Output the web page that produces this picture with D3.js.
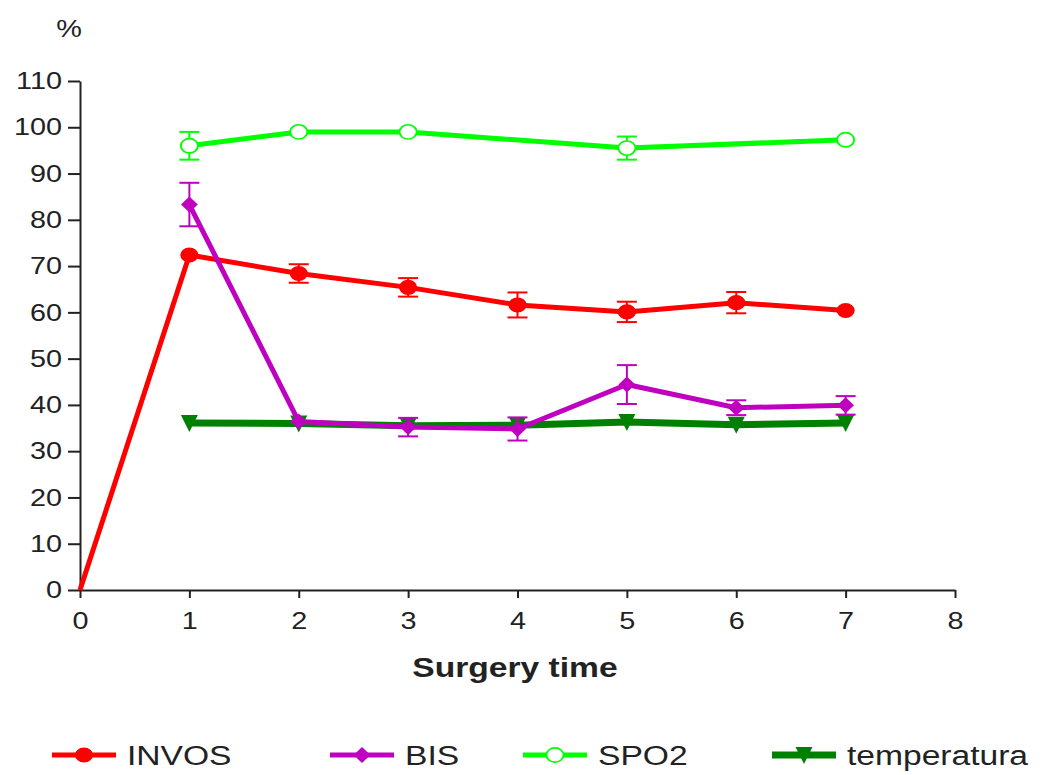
<!DOCTYPE html>
<html lang="en">
<head>
<meta charset="utf-8">
<title>Surgery time</title>
<script src="https://cdn.jsdelivr.net/npm/d3@7"></script>
<style>
    body { margin: 0; background: #fff; }
    svg { display: block; font-family: "Liberation Sans", Arial, sans-serif; }
    .axis path, .axis line { stroke: #222; stroke-width: 2px; }
    .axis text { font-size: 24px; fill: #222; }
</style>
</head>
<body>
<script>
    // chart data
    const timePoints = [0, 1, 2, 3, 4, 5, 6, 7];
    const invos     = [0, 72.4, 68.4, 65.4, 61.6, 60.1, 62.1, 60.4];
    const invosErr  = [0, 0, 2, 2, 2.7, 2.2, 2.3, 0];
    const bisTime   = [1, 2, 3, 4, 5, 6, 7];
    const bis       = [83.3, 36.4, 35.2, 34.8, 44.4, 39.4, 39.9];
    const bisErr    = [4.7, 0, 2, 2.5, 4.2, 1.6, 2];
    const spoTime   = [1, 2, 3, 5, 7];
    const spo2      = [96, 99, 99, 95.5, 97.3];
    const spo2Err   = [3, 0, 0, 2.5, 0];
    const tempTime  = [1, 2, 3, 4, 5, 6, 7];
    const temp      = [36.1, 36, 35.5, 35.6, 36.3, 35.7, 36.1];
    const tempErr   = [0, 0, 0, 0, 0, 0, 0];
    const xTicks = [0, 1, 2, 3, 4, 5, 6, 7, 8];
    const yTicks = [0, 10, 20, 30, 40, 50, 60, 70, 80, 90, 100, 110];

    const width = 1042, height = 775;
    const sx = 1.2; // picture is stretched horizontally

    let svg = d3.select("body").append("svg")
        .attr("width", width)
        .attr("height", height);

    let x = d3.scaleLinear().domain([0, 8]).range([80, 955]);
    let y = d3.scaleLinear().domain([0, 110]).range([590, 81]);

    // axes
    let yAxis = svg.append("g")
        .attr("class", "axis")
        .attr("transform", "translate(80,0)")
        .call(d3.axisLeft(y).tickValues(yTicks).tickSize(12).tickSizeOuter(0));
    yAxis.selectAll("text")
        .attr("x", -18 / sx)
        .attr("transform", "scale(" + sx + ",1)");

    let xAxis = svg.append("g")
        .attr("class", "axis")
        .attr("transform", "translate(0,590)")
        .call(d3.axisBottom(x).tickValues(xTicks).tickSize(8).tickSizeOuter(0));
    xAxis.selectAll("text")
        .attr("y", 22)
        .attr("transform", "scale(" + sx + ",1)");

    svg.append("text")
        .attr("transform", "translate(69,37) scale(" + sx + ",1)")
        .attr("text-anchor", "middle")
        .style("font-size", "24px")
        .attr("fill", "#222")
        .text("%");

    svg.append("text")
        .attr("transform", "translate(515,677) scale(" + sx + ",1)")
        .attr("text-anchor", "middle")
        .style("font-size", "28px")
        .style("font-weight", "bold")
        .attr("fill", "#222")
        .text("Surgery time");

    // marker shapes
    let markerPath = {
        circle: d3.symbol().type(d3.symbolCircle).size(180)(),
        open: d3.symbol().type(d3.symbolCircle).size(160)(),
        diamond: "M0,-8L7,0L0,8L-7,0Z",
        triangle: "M-8.5,-8L8.5,-8L0,9Z"
    };

    let series = [
        {name: "temperatura", xs: tempTime, ys: temp, err: tempErr, color: "#008000", width: 7, marker: "triangle"},
        {name: "INVOS", xs: timePoints, ys: invos, err: invosErr, color: "#ff0000", width: 5, marker: "circle"},
        {name: "BIS", xs: bisTime, ys: bis, err: bisErr, color: "#c000c0", width: 5, marker: "diamond"},
        {name: "SPO2", xs: spoTime, ys: spo2, err: spo2Err, color: "#00ff00", width: 5, marker: "open"}
    ];

    let line = d3.line()
        .x(function(d) { return x(d[0]); })
        .y(function(d) { return y(d[1]); });

    series.forEach(function(s) {
        let pts = s.xs.map(function(t, i) { return [t, s.ys[i], s.err[i]]; });
        let g = svg.append("g");

        g.append("path")
            .datum(pts)
            .attr("d", line)
            .attr("fill", "none")
            .attr("stroke", s.color)
            .attr("stroke-width", s.width)
            .attr("stroke-linejoin", "round");

        // error bars
        let eb = g.selectAll(".err")
            .data(pts.filter(function(d) { return d[0] > 0 && d[2] > 0; }))
            .enter().append("g");
        eb.append("line")
            .attr("x1", function(d) { return x(d[0]); })
            .attr("x2", function(d) { return x(d[0]); })
            .attr("y1", function(d) { return y(d[1] + d[2]); })
            .attr("y2", function(d) { return y(d[1] - d[2]); })
            .attr("stroke", s.color).attr("stroke-width", 2);
        [1, -1].forEach(function(sign) {
            eb.append("line")
                .attr("x1", function(d) { return x(d[0]) - 10; })
                .attr("x2", function(d) { return x(d[0]) + 10; })
                .attr("y1", function(d) { return y(d[1] + sign * d[2]); })
                .attr("y2", function(d) { return y(d[1] + sign * d[2]); })
                .attr("stroke", s.color).attr("stroke-width", 2);
        });

        g.selectAll(".mk")
            .data(pts.filter(function(d) { return d[0] > 0; }))
            .enter().append("path")
            .attr("d", markerPath[s.marker])
            .attr("transform", function(d) {
                let k = s.marker === "triangle" ? 1 : sx;
                return "translate(" + x(d[0]) + "," + y(d[1]) + ") scale(" + k + ",1)";
            })
            .attr("fill", s.marker === "open" ? "#fff" : s.color)
            .attr("stroke", s.color)
            .attr("stroke-width", s.marker === "open" ? 1.6 : 0);
    });

    // legend
    let legendX = [52, 330, 523, 772];
    let legendOrder = ["INVOS", "BIS", "SPO2", "temperatura"];
    legendOrder.forEach(function(name, i) {
        let s = series.find(function(d) { return d.name === name; });
        let lg = svg.append("g").attr("transform", "translate(" + legendX[i] + ",755)");
        lg.append("line")
            .attr("x1", 0).attr("x2", 64)
            .attr("stroke", s.color)
            .attr("stroke-width", s.width);
        lg.append("path")
            .attr("d", markerPath[s.marker])
            .attr("transform", "translate(32,0) scale(" + (s.marker === "triangle" ? 1 : sx) + ",1)")
            .attr("fill", s.marker === "open" ? "#fff" : s.color)
            .attr("stroke", s.color)
            .attr("stroke-width", s.marker === "open" ? 1.6 : 0);
        lg.append("text")
            .attr("transform", "translate(75,10) scale(" + sx + ",1)")
            .style("font-size", "28px")
            .attr("fill", "#222")
            .text(name);
    });
</script>
</body>
</html>
